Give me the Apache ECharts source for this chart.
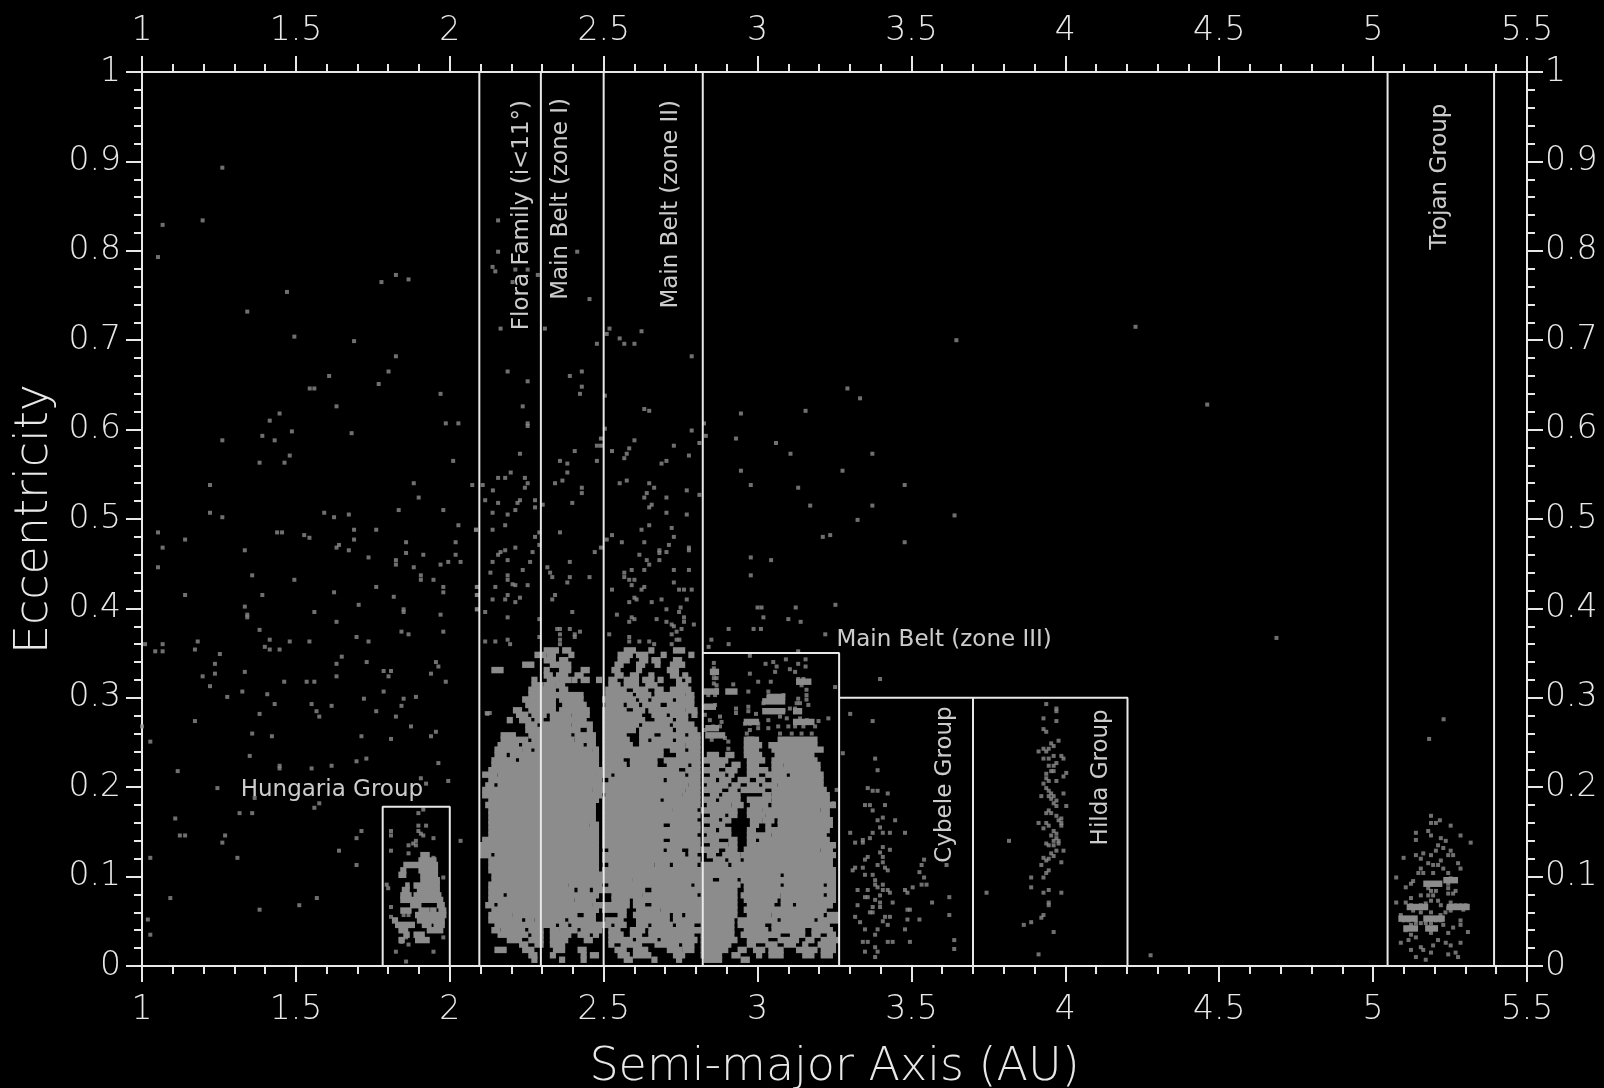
<!DOCTYPE html>
<html><head><meta charset="utf-8">
<style>html,body{margin:0;padding:0;background:#000}#c{width:1604px;height:1088px}</style>
<script src="https://cdn.jsdelivr.net/npm/echarts@6/dist/echarts.min.js"></script>
</head><body><div id="c"></div>
<script>
// Scattered asteroids [semi-major axis AU, eccentricity]
const innerPoints=[[1.261,.893],[1.067,.829],[1.197,.834],[1.052,.793],[1.471,.754],[1.778,.765],[1.825,.773],[1.866,.768],[1.342,.732],[1.495,.704],[1.689,.699],[1.825,.682],[1.801,.665],[1.608,.660],[1.769,.651],[1.545,.646],[1.560,.646],[1.970,.640],[1.632,.626],[1.447,.618],[1.415,.610],[1.987,.607],[2.028,.607],[1.487,.598],[1.681,.596],[1.391,.593],[1.261,.588],[1.431,.588],[1.480,.571],[1.382,.563],[1.463,.563],[2.011,.565],[1.221,.538],[1.883,.540],[2.073,.538],[1.899,.524],[2.085,.488],
[1.221,.507],[1.261,.502],[1.592,.507],[1.624,.502],[1.672,.505],[1.834,.510],[1.979,.510],[2.028,.493],[1.052,.485],[1.439,.485],[1.455,.485],[1.527,.482],[1.544,.479],[1.689,.488],[1.761,.488],[1.140,.477],[1.689,.477],[1.858,.474],[2.019,.474],[1.067,.468],[1.640,.471],[1.632,.468],[1.334,.465],[1.672,.465],[1.858,.462],[1.914,.460],[2.019,.460],[1.736,.457],[1.825,.454],[1.825,.449],[1.995,.452],[2.035,.452],[1.970,.449],[1.883,.446],[1.052,.446],[1.358,.437],[1.906,.437],[1.906,.432],[1.495,.432],[1.947,.432],[1.761,.424],[1.979,.424],[1.979,.418],[1.624,.418],[1.140,.415],[1.391,.415],[1.818,.413],[2.088,.424],[2.088,.415],[1.704,.404],[1.334,.402],[1.850,.399],[1.850,.396],[1.560,.396],[1.342,.393],[1.342,.390],[1.970,.393],[2.088,.399],[1.632,.385],[1.382,.376],[1.843,.374],[1.866,.371],[1.979,.374],[1.697,.368],[1.415,.365],[1.480,.363],[1.544,.363],[1.736,.363],[1.181,.363],[1.010,.360],[1.067,.360],[1.399,.357],[1.415,.354],[1.447,.354],[1.172,.354],[1.043,.352],[1.067,.352],[1.253,.349],[1.649,.346],[1.632,.338],[1.730,.340],[1.955,.340],[1.963,.335],[1.237,.338],[1.785,.330],[1.801,.324],[1.809,.330],[1.939,.327],[1.334,.329],[1.237,.327],[1.632,.324],[1.197,.324],[1.462,.318],[1.535,.318],[1.560,.318],[1.987,.318],[1.221,.313],[1.326,.307],[1.785,.307],[1.407,.304],[1.277,.301],[1.890,.301],[1.721,.299],[1.850,.299],[1.431,.293],[1.551,.293],[1.616,.291],[1.843,.291],[1.567,.285],[1.576,.279],[1.761,.285],[1.382,.282],[1.825,.279],[2.122,.282],[1.172,.274],[1.0,.268],[1.874,.268],[1.955,.262],[1.358,.260],[1.422,.257],[1.713,.257],[1.939,.257],[1.027,.251],[1.809,.254],[1.350,.235],[1.729,.232],[1.697,.229],[1.963,.227],[1.447,.224],[1.447,.221],[1.616,.224],[1.551,.221],[1.116,.218],[1.995,.207],[1.906,.210],[1.923,.204],[1.245,.199],[1.366,.188],[1.560,.177],[1.576,.182],[1.317,.171],[1.358,.171],[1.108,.165],[1.713,.151],[1.123,.146],[1.140,.146],[1.270,.146],[1.697,.143],[1.261,.138],[2.035,.140],[1.640,.129],[1.027,.121],[1.310,.121],[1.697,.113],[1.092,.076],[1.568,.076],[1.511,.068],[1.382,.063],[1.019,.052],[1.027,.035]];
const hungariaPoints=[[1.914,.175],[1.898,.171],[1.809,.151],[1.809,.146],[1.923,.157],[1.898,.157],[1.898,.151],[1.906,.148],[1.914,.146],[1.890,.140],[1.881,.137],[1.866,.135],[1.890,.135],[1.947,.143],[1.809,.129],[1.866,.126],[1.947,.121],[1.800,.087],[1.795,.091],[1.979,.099],[1.809,.066],[1.809,.055],[1.850,.057],[1.866,.057],[1.979,.032],[1.858,.035],[1.858,.032],[1.866,.024],[1.843,.027],[1.825,.016],[1.947,.016],[1.858,.005]];
const beltPoints=[[2.157,.834],[2.157,.799],[2.414,.799],[2.139,.782],[2.148,.777],[2.213,.779],[2.253,.779],[2.286,.773],[2.204,.765],[2.454,.746],[2.165,.713],[2.309,.713],[2.519,.713],[2.510,.707],[2.623,.710],[2.552,.702],[2.567,.696],[2.600,.696],[2.478,.696],[2.786,.682],
[2.188,.665],[2.429,.665],[2.390,.660],[2.253,.654],[2.429,.648],[2.423,.640],[2.237,.626],[2.504,.638],[2.632,.623],[2.648,.621],[2.946,.618],[3.156,.621],[3.292,.646],[3.333,.635],[2.253,.607],[2.253,.604],[2.826,.607],[2.504,.601],[2.786,.599],[2.832,.593],[2.930,.590],[2.491,.590],[2.600,.588],[2.811,.585],[2.478,.582],[2.491,.582],[3.060,.585],[2.728,.582],[2.406,.576],[2.527,.576],[2.583,.579],[2.575,.573],[2.567,.568],[2.228,.573],[3.107,.573],[3.373,.573],[2.777,.571],[2.358,.565],[2.478,.565],[2.704,.565],[2.688,.562],[2.382,.562],[2.946,.554],[3.276,.554],[2.198,.552],[2.180,.546],[2.157,.546],[2.382,.552],[2.244,.546],[2.253,.540],[2.244,.535],[2.366,.543],[2.342,.540],[2.575,.543],[2.552,.540],[2.648,.540],[2.664,.535],[2.978,.538],[3.132,.535],[3.478,.538],[2.107,.538],[2.140,.532],[2.429,.535],[2.429,.529],[2.770,.532],[2.640,.529],[2.632,.524],[2.811,.527],[2.704,.524],[2.115,.521],[2.157,.518],[2.228,.521],[2.220,.518],[2.277,.521],[2.277,.513],[2.398,.518],[2.302,.516],[2.656,.516],[2.648,.513],[3.171,.515],[3.373,.515],[2.213,.510],[2.139,.507],[2.188,.505],[2.704,.507],[2.770,.505],[3.640,.504],[3.325,.499],[2.180,.493],[2.648,.493],[2.721,.490],[2.139,.488],[2.085,.488],[2.623,.488],[2.358,.485],[2.291,.485],[2.277,.480],[2.527,.482],[2.510,.477],[2.728,.480],[3.212,.480],[3.236,.482],[3.478,.474],[2.559,.474],[2.632,.474],[2.712,.471],[2.291,.471],[2.213,.468],[2.491,.468],[2.180,.465],[2.165,.463],[2.157,.460],[2.269,.463],[2.681,.465],[2.681,.462],[2.777,.468],[2.777,.465],[2.704,.463],[2.471,.463],[2.616,.460],[2.978,.457],[3.044,.454],[2.188,.454],[2.139,.452],[2.261,.452],[2.390,.452],[2.640,.454],[2.648,.449],[2.681,.454],[2.317,.446],[2.326,.440],[2.333,.435],[2.237,.443],[2.632,.443],[2.591,.443],[2.728,.443],[2.777,.443],[2.132,.440],[2.567,.440],[2.567,.435],[2.583,.432],[2.600,.432],[2.591,.426],[2.978,.437],[2.188,.437],[2.188,.432],[2.204,.427],[2.213,.426],[2.390,.435],[2.382,.429],[2.454,.435],[2.728,.429],[2.253,.426],[2.148,.424],[2.527,.421],[2.632,.424],[2.623,.421],[2.745,.421],[2.761,.421],[2.786,.421],[2.188,.415],[2.180,.410],[2.342,.415],[2.333,.410],[2.139,.410],[2.228,.412],[2.213,.407],[2.600,.412],[2.607,.410],[2.583,.407],[2.688,.410],[2.656,.407],[2.770,.410],[2.088,.424],[2.088,.415],[2.088,.399],[3.000,.401],[3.013,.401],[3.124,.401],[3.253,.404],[2.750,.401],[2.745,.396],[2.704,.399],[2.115,.396],[2.398,.396],[2.543,.393],[3.019,.390],[2.188,.390],[2.291,.388],[2.591,.390],[2.583,.385],[2.600,.388],[2.761,.390],[2.761,.385],[2.672,.388],[3.100,.388],[3.140,.385],[2.704,.385],[2.721,.382],[2.728,.380],[2.793,.382],[2.987,.377],[3.011,.377],[2.906,.377],[2.349,.377],[2.358,.377],[2.390,.377],[2.423,.374],[2.406,.371],[2.406,.368],[2.518,.371],[2.753,.377],[2.737,.374],[2.721,.371],[2.358,.371],[2.358,.365],[2.358,.360],[2.583,.368],[2.583,.363],[3.220,.371],[2.291,.368],[2.850,.365],[2.737,.365],[2.746,.365],[2.115,.363],[2.148,.363],[2.188,.365],[2.196,.360],[2.616,.363],[2.648,.363],[2.664,.360],[2.721,.360],[2.906,.360],[2.841,.357],[2.120,.283],[2.130,.283],
[2.975,.347],[3.132,.352],[3.092,.343],[3.051,.340],[3.026,.338],[3.156,.343],[3.156,.335],[3.132,.338],[2.858,.339],[2.858,.333],[2.858,.327],[2.858,.322],[2.867,.322],[2.858,.316],[3.062,.335],[3.057,.329],[3.105,.332],[3.122,.329],[2.975,.327],[3.002,.318],[3.043,.318],[3.132,.321],[3.149,.321],[3.165,.318],[2.921,.315],[2.867,.314],[2.867,.309],[2.851,.307],[2.840,.303],[2.862,.303],[2.905,.307],[2.921,.307],[2.970,.307],[3.143,.314],[3.159,.309],[3.159,.303],[3.159,.298],[3.165,.292],[3.252,.312],[3.035,.307],[3.035,.301],[3.051,.301],[3.073,.301],[3.084,.303],[3.046,.296],[3.068,.296],[3.132,.299],[3.127,.294],[3.138,.294],[3.019,.294],[2.829,.290],[2.851,.290],[2.862,.292],[2.930,.288],[2.930,.283],[2.970,.290],[2.970,.285],[3.035,.286],[3.057,.286],[3.084,.286],[3.105,.288],[3.122,.288],[2.995,.282],[2.829,.281],[2.845,.275],[2.878,.279],[2.883,.273],[2.959,.271],[2.975,.271],[3.002,.271],[3.002,.266],[3.035,.275],[3.035,.266],[3.073,.279],[3.095,.277],[3.138,.277],[3.160,.275],[3.198,.274],[3.230,.277],[2.856,.268],[2.878,.268],[2.829,.264],[2.840,.258],[2.851,.253],[2.894,.255],[2.905,.251],[2.905,.243],[3.067,.268],[3.100,.268],[3.122,.268],[3.149,.268],[3.187,.268],[3.073,.260],[3.111,.260],[3.143,.260],[3.176,.260],[2.965,.260],[2.975,.264],[3.257,.197],[3.246,.182],[3.277,.238]];
const cybelePoints=[[3.398,.321],[3.301,.282],[3.374,.274],[3.382,.232],[3.390,.219],[3.358,.199],[3.374,.196],[3.390,.196],[3.423,.193],[3.349,.180],[3.365,.180],[3.374,.174],[3.414,.180],[3.407,.166],[3.390,.163],[3.447,.163],[3.398,.155],[3.407,.149],[3.430,.149],[3.479,.149],[3.301,.149],[3.374,.149],[3.365,.143],[3.342,.141],[3.342,.138],[3.317,.138],[3.407,.133],[3.398,.127],[3.407,.122],[3.407,.116],[3.430,.130],[3.358,.122],[3.349,.119],[3.541,.119],[3.533,.113],[3.526,.105],[3.342,.110],[3.317,.110],[3.309,.107],[3.390,.113],[3.414,.110],[3.423,.107],[3.614,.113],[3.349,.102],[3.374,.102],[3.382,.096],[3.382,.091],[3.390,.088],[3.407,.091],[3.407,.085],[3.423,.085],[3.430,.082],[3.541,.099],[3.533,.091],[3.549,.091],[3.504,.088],[3.479,.085],[3.487,.082],[3.325,.085],[3.358,.085],[3.349,.077],[3.358,.077],[3.398,.079],[3.382,.074],[3.398,.071],[3.398,.066],[3.374,.066],[3.623,.077],[3.325,.068],[3.439,.071],[3.567,.071],[3.365,.060],[3.374,.060],[3.487,.063],[3.495,.063],[3.623,.057],[3.414,.055],[3.430,.055],[3.407,.050],[3.423,.046],[3.317,.055],[3.333,.049],[3.487,.052],[3.526,.052],[3.349,.041],[3.390,.041],[3.382,.035],[3.479,.041],[3.342,.027],[3.358,.027],[3.423,.027],[3.439,.027],[3.495,.027],[3.639,.029],[3.382,.021],[3.390,.016],[3.382,.010],[3.349,.016],[3.639,.019]];
const hildaPoints=[[3.938,.293],[3.971,.288],[3.971,.285],[3.929,.277],[3.971,.274],[3.929,.265],[3.938,.262],[3.978,.252],[3.954,.249],[3.962,.246],[3.946,.243],[3.929,.243],[3.913,.240],[3.938,.240],[3.929,.232],[3.946,.232],[3.962,.235],[3.987,.235],[3.994,.232],[3.946,.224],[3.962,.224],[3.971,.227],[3.954,.218],[3.962,.218],[4.003,.216],[3.994,.212],[3.938,.215],[3.938,.210],[3.929,.204],[3.946,.207],[3.971,.207],[3.938,.199],[3.946,.196],[3.954,.193],[3.962,.190],[3.946,.190],[3.954,.187],[3.971,.185],[3.962,.182],[3.971,.179],[3.994,.193],[3.922,.190],[4.003,.179],[3.946,.174],[3.938,.171],[3.954,.171],[3.971,.168],[3.987,.165],[3.978,.163],[3.987,.160],[3.987,.157],[3.913,.160],[3.929,.154],[3.938,.160],[3.946,.157],[3.962,.151],[3.971,.148],[3.954,.146],[3.971,.143],[3.978,.140],[3.962,.140],[3.817,.140],[3.938,.137],[3.946,.135],[3.962,.135],[3.978,.137],[3.971,.129],[3.954,.126],[3.962,.123],[3.946,.120],[3.929,.121],[3.938,.118],[3.994,.129],[3.987,.116],[3.922,.113],[3.946,.107],[3.938,.104],[3.929,.099],[3.889,.099],[3.889,.088],[3.946,.085],[3.929,.082],[3.987,.082],[3.946,.071],[3.946,.068],[3.929,.057],[3.922,.054],[3.889,.049],[3.865,.046],[3.962,.038],[3.913,.013],[3.744,.082]];
const trojanPoints=[[5.188,.168],[5.188,.160],[5.217,.163],[5.204,.160],[5.252,.157],[5.179,.151],[5.188,.146],[5.139,.149],[5.139,.141],[5.284,.146],[5.317,.138],[5.220,.143],[5.236,.140],[5.211,.135],[5.228,.132],[5.204,.129],[5.252,.129],[5.244,.124],[5.260,.124],[5.188,.124],[5.163,.126],[5.139,.124],[5.155,.120],[5.099,.121],[5.220,.118],[5.211,.113],[5.179,.115],[5.195,.113],[5.228,.109],[5.195,.104],[5.244,.104],[5.276,.115],[5.284,.109],[5.155,.109],[5.147,.104],[5.163,.104],[5.252,.098],[5.244,.092],[5.260,.095],[5.179,.092],[5.195,.092],[5.211,.092],[5.244,.087],[5.179,.087],[5.075,.099],[5.130,.095],[5.123,.092],[5.106,.088],[5.188,.084],[5.204,.084],[5.179,.079],[5.195,.079],[5.188,.073],[5.268,.084],[5.260,.081],[5.244,.081],[5.155,.079],[5.123,.076],[5.211,.073],[5.220,.068],[5.075,.071],[5.106,.071],[5.123,.068],[5.139,.065],[5.155,.068],[5.171,.070],[5.130,.062],[5.155,.060],[5.252,.071],[5.244,.065],[5.268,.068],[5.284,.068],[5.300,.068],[5.252,.062],[5.235,.060],[5.219,.057],[5.293,.063],[5.304,.065],[5.188,.060],[5.090,.057],[5.099,.051],[5.115,.051],[5.123,.046],[5.139,.048],[5.155,.048],[5.171,.048],[5.188,.048],[5.204,.051],[5.219,.051],[5.179,.043],[5.195,.043],[5.188,.037],[5.284,.051],[5.284,.046],[5.260,.043],[5.228,.046],[5.244,.037],[5.308,.038],[5.106,.040],[5.123,.035],[5.115,.029],[5.139,.032],[5.090,.026],[5.211,.029],[5.195,.023],[5.236,.026],[5.252,.023],[5.284,.026],[5.155,.021],[5.163,.018],[5.123,.018],[5.188,.015],[5.244,.013],[5.268,.015],[5.276,.010],[5.139,.010],[5.171,.007]];
const outerPoints=[[3.646,.700],[4.228,.715],[4.461,.628],[4.686,.367],[4.277,.012],[5.182,.254],[5.229,.276]];

// Merged runs where asteroids overlap: [eccentricity, a from, a to, a from, a to, ...]
const runHalfHeight=.0036, runPad=.005;
const beltFringeRuns=[
[.353,2.31,2.35,2.37,2.39,2.57,2.60,2.65,2.66,2.73,2.76],
[.348,2.28,2.31,2.32,2.34,2.39,2.40,2.55,2.59,2.61,2.64,2.69,2.70,2.78,2.79],
[.342,2.31,2.34,2.36,2.38,2.55,2.58,2.62,2.64,2.66,2.68,2.73,2.75],
[.337,2.24,2.27,2.33,2.35,2.36,2.39,2.54,2.56,2.61,2.63,2.67,2.68,2.72,2.76],
[.331,2.14,2.17,2.31,2.32,2.36,2.39,2.43,2.45,2.53,2.55,2.61,2.62,2.71,2.74],
[.325,2.31,2.33,2.35,2.38,2.41,2.43,2.54,2.56,2.59,2.61,2.65,2.66,2.72,2.74,2.76,2.77],
[.320,2.27,2.28,2.32,2.35,2.36,2.39,2.40,2.41,2.43,2.45,2.48,2.49,2.52,2.54,2.57,2.61,2.63,2.66,2.68,2.69,2.74,2.75,2.77,2.78],
[.329,2.85,2.87],[.318,3.13,3.17],[.307,2.83,2.87,2.90,2.93],[.301,3.035,3.085],[.296,3.02,3.085],[.290,2.83,2.86],[.285,3.02,3.085,3.12,3.14],[.273,2.96,3.00,3.12,3.18],[.266,2.835,2.87],[.258,2.835,2.89],[.253,2.96,2.985]];
const beltRuns=[
[.314,2.27,2.30,2.31,2.34,2.35,2.37,2.52,2.55,2.57,2.61,2.64,2.67,2.74,2.77],
[.309,2.26,2.34,2.36,2.38,2.51,2.57,2.60,2.64,2.67,2.69,2.72,2.78],
[.303,2.26,2.34,2.35,2.43,2.51,2.59,2.61,2.65,2.67,2.76,2.77,2.79],
[.298,2.24,2.34,2.36,2.43,2.50,2.60,2.62,2.64,2.66,2.72,2.74,2.79],
[.292,2.25,2.34,2.37,2.44,2.51,2.56,2.58,2.61,2.63,2.68,2.71,2.79],
[.286,2.21,2.23,2.26,2.34,2.36,2.45,2.50,2.57,2.60,2.63,2.65,2.76,2.77,2.80],
[.281,2.22,2.25,2.27,2.31,2.33,2.39,2.40,2.45,2.50,2.62,2.66,2.70,2.72,2.77,2.79,2.80],
[.275,2.19,2.20,2.23,2.26,2.28,2.30,2.33,2.44,2.50,2.63,2.67,2.72,2.74,2.77],
[.270,2.25,2.28,2.30,2.39,2.40,2.46,2.50,2.61,2.63,2.71,2.73,2.79],
[.264,2.25,2.29,2.30,2.42,2.45,2.46,2.50,2.60,2.62,2.72,2.74,2.80],
[.258,2.17,2.21,2.26,2.29,2.30,2.39,2.41,2.47,2.50,2.57,2.62,2.66,2.69,2.76,2.78,2.81],
[.253,2.17,2.25,2.27,2.40,2.41,2.47,2.50,2.58,2.62,2.64,2.66,2.72,2.74,2.81,2.97,3.00,3.07,3.19],
[.247,2.16,2.22,2.24,2.43,2.45,2.47,2.50,2.59,2.62,2.76,2.77,2.81,2.96,3.01,3.04,3.19],
[.242,2.15,2.23,2.24,2.26,2.28,2.46,2.47,2.48,2.50,2.69,2.72,2.76,2.78,2.81,2.96,3.00,3.05,3.21],
[.236,2.15,2.18,2.20,2.48,2.50,2.69,2.74,2.81,2.84,2.87,2.90,2.92,2.96,3.01,3.06,3.18],
[.230,2.14,2.21,2.23,2.48,2.50,2.56,2.59,2.67,2.70,2.81,2.83,2.90,2.97,3.02,3.05,3.19],
[.225,2.14,2.48,2.50,2.57,2.59,2.67,2.71,2.77,2.79,2.81,2.85,2.89,2.92,2.94,2.97,3.00,3.05,3.08,3.09,3.20],
[.219,2.13,2.49,2.50,2.74,2.77,2.81,2.83,2.87,2.90,2.93,2.97,3.03,3.05,3.20],
[.214,2.11,2.15,2.16,2.47,2.48,2.49,2.50,2.52,2.54,2.76,2.78,2.81,2.85,2.89,2.91,2.92,2.97,3.00,3.03,3.09,3.11,3.21],
[.208,2.13,2.49,2.52,2.69,2.71,2.81,2.83,2.86,2.88,2.91,2.94,2.97,3.00,3.02,3.05,3.21],
[.202,2.12,2.14,2.16,2.49,2.50,2.77,2.78,2.81,2.84,2.90,2.92,2.94,2.97,3.00,3.02,3.06,3.07,3.21],
[.197,2.11,2.46,2.47,2.49,2.50,2.76,2.77,2.81,2.83,2.88,2.91,2.93,2.95,3.02,3.05,3.22],
[.191,2.11,2.49,2.51,2.75,2.76,2.81,2.85,2.87,2.89,2.94,3.02,3.04,3.05,3.23],
[.186,2.13,2.48,2.50,2.68,2.70,2.81,2.83,2.86,2.88,2.94,2.97,3.04,3.05,3.23],
[.180,2.12,2.47,2.50,2.81,2.84,2.91,2.92,2.95,2.98,3.03,3.05,3.25],
[.174,2.13,2.47,2.50,2.72,2.73,2.80,2.82,2.86,2.87,2.93,2.97,3.01,3.02,3.20,3.21,3.23],
[.169,2.13,2.47,2.50,2.81,2.85,2.89,2.91,2.93,2.97,3.02,3.03,3.23],
[.163,2.13,2.47,2.50,2.80,2.83,2.87,2.89,2.91,2.98,3.01,3.02,3.05,3.07,3.24],
[.158,2.13,2.45,2.46,2.48,2.50,2.69,2.72,2.81,2.85,2.89,2.98,3.00,3.03,3.04,3.07,3.24],
[.152,2.13,2.48,2.50,2.81,2.83,2.86,2.88,2.91,2.97,2.99,3.03,3.23],
[.146,2.13,2.48,2.50,2.80,2.84,2.91,2.97,3.04,3.05,3.22],
[.141,2.11,2.48,2.50,2.69,2.72,2.81,2.83,2.87,2.91,2.93,2.97,2.99,3.01,3.23],
[.135,2.10,2.48,2.50,2.81,2.85,2.90,2.91,2.93,2.97,2.99,3.00,3.25],
[.130,2.10,2.48,2.52,2.69,2.71,2.75,2.78,2.81,2.82,2.87,2.90,2.93,2.96,3.20,3.21,3.24],
[.124,2.10,2.13,2.15,2.48,2.50,2.76,2.78,2.80,2.84,2.86,2.89,2.94,2.95,3.25],
[.119,2.13,2.48,2.50,2.81,2.86,2.89,2.91,2.94,2.96,3.24],
[.113,2.13,2.48,2.52,2.66,2.67,2.71,2.73,2.80,2.82,2.90,2.92,3.24],
[.107,2.13,2.48,2.50,3.25],
[.102,2.14,2.49,2.50,3.07,3.09,3.25],
[.096,2.14,2.49,2.50,2.59,2.60,2.85,2.88,2.93,2.95,3.25],
[.091,2.13,2.38,2.39,2.49,2.52,2.78,2.80,2.94,2.96,3.07,3.09,3.21,3.23,3.25],
[.085,2.13,2.40,2.42,2.45,2.47,2.49,2.50,2.63,2.66,2.93,2.96,3.25],
[.079,2.13,2.17,2.19,2.48,2.53,2.62,2.63,2.80,2.82,2.93,2.95,3.07,3.08,3.21,3.23,3.25],
[.074,2.13,2.40,2.41,2.47,2.53,2.58,2.60,2.93,2.96,3.06,3.08,3.25],
[.068,2.12,2.14,2.16,2.46,2.47,2.49,2.50,2.58,2.60,2.63,2.66,2.93,2.97,3.05,3.08,3.11,3.13,3.24],
[.063,2.14,2.48,2.50,2.57,2.61,2.68,2.69,2.93,2.96,3.22],
[.057,2.13,2.20,2.21,2.41,2.44,2.47,2.55,2.57,2.60,2.71,2.73,2.75,2.77,2.93,2.97,3.04,3.05,3.21,3.23,3.26],
[.051,2.13,2.23,2.25,2.27,2.28,2.37,2.39,2.47,2.51,2.56,2.61,2.71,2.73,2.92,2.94,3.06,3.08,3.18,3.20,3.26],
[.046,2.15,2.34,2.36,2.38,2.40,2.49,2.50,2.52,2.54,2.57,2.61,2.64,2.66,2.72,2.74,2.79,2.82,2.92,2.94,3.02,3.05,3.23],
[.040,2.14,2.16,2.17,2.24,2.26,2.30,2.33,2.35,2.36,2.41,2.43,2.49,2.52,2.55,2.59,2.63,2.65,2.92,2.96,3.03,3.05,3.15,3.18,3.24],
[.035,2.16,2.25,2.27,2.30,2.33,2.39,2.42,2.45,2.47,2.48,2.52,2.56,2.59,2.62,2.65,2.79,2.82,2.92,2.95,3.07,3.11,3.15,3.18,3.20,3.23,3.25],
[.029,2.19,2.23,2.26,2.30,2.33,2.38,2.44,2.46,2.52,2.59,2.61,2.67,2.69,2.80,2.82,2.93,2.97,3.03,3.07,3.13,3.16,3.18,3.21,3.26],
[.024,2.23,2.25,2.28,2.30,2.33,2.37,2.52,2.53,2.56,2.62,2.67,2.74,2.76,2.79,2.82,2.91,2.97,2.99,3.03,3.06,3.09,3.12,3.15,3.16,3.20,3.25],
[.018,2.15,2.18,2.24,2.27,2.34,2.37,2.42,2.44,2.54,2.57,2.60,2.64,2.71,2.75,2.76,2.79,2.82,2.90,2.94,2.96,2.99,3.02,3.04,3.08,3.13,3.19,3.21,3.25],
[.012,2.26,2.28,2.33,2.34,2.43,2.44,2.46,2.48,2.55,2.58,2.60,2.65,2.73,2.76,2.82,2.88,2.92,2.94,3.00,3.01,3.04,3.08,3.15,3.18,3.21,3.24],
[.007,2.27,2.28,2.36,2.37,2.43,2.44,2.57,2.59,2.66,2.67,2.74,2.75,2.83,2.88,2.95,2.97]];
const hungariaRuns=[[.124,1.909,1.930],[.118,1.903,1.952],[.113,1.854,1.957],[.107,1.844,1.854,1.903,1.957],[.102,1.838,1.854,1.909,1.957],[.096,1.909,1.963],[.090,1.860,1.865,1.887,1.909,1.914,1.963],[.085,1.849,1.865,1.898,1.963],[.079,1.844,1.871,1.887,1.968],[.074,1.844,1.871,1.876,1.974],[.068,1.876,1.903,1.963,1.979],[.062,1.844,1.871,1.903,1.930,1.941,1.952,1.968,1.984],[.057,1.892,1.936,1.941,1.984],[.051,1.817,1.827,1.898,1.947,1.952,1.979],[.046,1.827,1.882,1.914,1.936,1.952,1.979],[.040,1.838,1.860,1.930,1.974],[.035,1.854,1.865,1.887,1.914],[.029,1.838,1.849,1.892,1.930]];
const trojanRuns=[[.096,5.233,5.271],[.092,5.168,5.22],[.066,5.114,5.174,5.244,5.309],[.053,5.087,5.14,5.168,5.228],[.042,5.103,5.141,5.174,5.206]];

// Region outlines, each a polyline of [a, e]
const regionLines=[
[[2.096,0],[2.096,1]],[[2.296,0],[2.296,1]],[[2.5,0],[2.5,1]],[[2.822,0],[2.822,1]],
[[2.822,.35],[3.265,.35],[3.265,0]],
[[3.265,.3],[4.202,.3],[4.202,0]],[[3.70,.3],[3.70,0]],
[[1.782,0],[1.782,.178],[2.0,.178],[2.0,0]],
[[5.047,0],[5.047,1]],[[5.393,0],[5.393,1]]];

// Region names: [a, e, name, rotated]
const regionLabels=[
[1.617,.197,'Hungaria Group',0],
[2.235,.840,'Flora Family (i<11°)',1],
[2.361,.858,'Main Belt (zone I)',1],
[2.719,.852,'Main Belt (zone II)',1],
[3.606,.365,'Main Belt (zone III)',0],
[3.609,.203,'Cybele Group',1],
[4.116,.211,'Hilda Group',1],
[5.217,.883,'Trojan Group',1]];

const xTitle='Semi-major Axis (AU)', yTitle='Eccentricity';
const fg='#e8e8e8', dot='#8c8c8c', face='"DejaVu Sans"';

const allPoints=[].concat(innerPoints,hungariaPoints,beltPoints,cybelePoints,hildaPoints,trojanPoints,outerPoints);
const runCells=[];
beltFringeRuns.concat(beltRuns,hungariaRuns,trojanRuns).forEach(r=>{for(let i=1;i<r.length;i+=2)runCells.push([r[i]-runPad,r[i+1]+runPad,r[0]-runHalfHeight,r[0]+runHalfHeight]);});

const tick={length:16,lineStyle:{color:fg,width:2}};
const minor=n=>({show:true,splitNumber:n,length:8,lineStyle:{color:fg,width:2}});
const line={show:true,onZero:false,lineStyle:{color:fg,width:2}};
const lab=(m,pad)=>({color:fg,fontFamily:face,fontWeight:200,fontSize:33,margin:m,padding:pad});
const xAxisOf=(pos,m,extra)=>Object.assign({type:'value',position:pos,min:1,max:5.5,interval:.5,axisLine:line,axisTick:tick,minorTick:minor(5),splitLine:{show:false},axisLabel:lab(m,0)},extra);
const yAxisOf=(pos,m,extra)=>Object.assign({type:'value',position:pos,min:0,max:1,interval:.1,axisLine:line,axisTick:tick,minorTick:minor(5),splitLine:{show:false},axisLabel:lab(m,[4,0,0,0])},extra);
const nameStyle={color:fg,fontFamily:face,fontWeight:200,fontSize:46};

const series=[
{type:'custom',data:runCells,silent:true,clip:false,z:1,encode:{x:[0,1],y:[2,3]},
 renderItem:(p,api)=>{const a=api.coord([api.value(0),api.value(3)]),b=api.coord([api.value(1),api.value(2)]);
  return {type:'rect',shape:{x:a[0],y:a[1],width:b[0]-a[0],height:b[1]-a[1]},style:{fill:dot}};}},
{type:'scatter',data:allPoints,symbol:'rect',symbolSize:4,itemStyle:{color:dot},silent:true,clip:false,z:2}
];
regionLines.forEach(l=>series.push({type:'line',data:l,symbol:'none',silent:true,clip:false,z:3,lineStyle:{color:fg,width:2}}));
series.push({type:'scatter',z:4,silent:true,symbolSize:1,itemStyle:{color:'transparent'},
 data:regionLabels.map(r=>({value:[r[0],r[1]],label:{show:true,position:'inside',rotate:r[3]?90:0,formatter:r[2],color:'#ffffff',fontFamily:face,fontSize:23,fontWeight:'normal'}}))});

const chart=echarts.init(document.getElementById('c'),null,{renderer:'canvas'});
chart.setOption({backgroundColor:'#000',animation:false,
 grid:{left:142,top:72,right:77,bottom:122,containLabel:false,outerBoundsMode:'none'},
 xAxis:[xAxisOf('bottom',28,{name:xTitle,nameLocation:'middle',nameGap:79,nameTextStyle:nameStyle}),xAxisOf('top',24,{})],
 yAxis:[yAxisOf('left',21,{name:yTitle,nameLocation:'middle',nameGap:72,nameTextStyle:nameStyle}),yAxisOf('right',18,{})],
 series});
</script></body></html>
